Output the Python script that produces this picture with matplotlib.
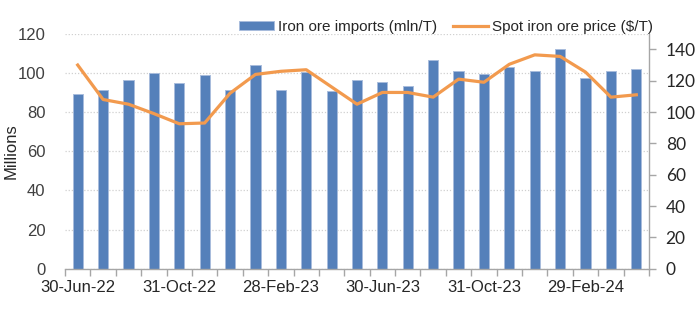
import numpy as np
import matplotlib
matplotlib.use('Agg')
import matplotlib.pyplot as plt
from matplotlib.ticker import FixedLocator

# monthly series, Jun-22 .. Apr-24
months = ['30-Jun-22', '31-Jul-22', '31-Aug-22', '30-Sep-22', '31-Oct-22', '30-Nov-22',
          '31-Dec-22', '31-Jan-23', '28-Feb-23', '31-Mar-23', '30-Apr-23', '31-May-23',
          '30-Jun-23', '31-Jul-23', '31-Aug-23', '30-Sep-23', '31-Oct-23', '30-Nov-23',
          '31-Dec-23', '31-Jan-24', '29-Feb-24', '31-Mar-24', '30-Apr-24']
imports = [89, 91.5, 96.5, 100, 95, 99, 91, 104, 91, 100.5, 90.5, 96.5,
           95.5, 93.5, 106.5, 101, 99.5, 103, 101, 112, 97.5, 101, 102]
price = [130, 108, 105, 99, 92.5, 93, 112, 124, 126, 127, 116, 105,
         112.5, 112.5, 109.5, 121, 119, 130.5, 136.5, 135.5, 125.5, 109.5, 111]

bar_col = '#5580BA'
line_col = '#F29A4E'
txt_col = '#262626'
axis_col = '#A6A6A6'

plt.rcParams['font.family'] = ['Liberation Sans', 'DejaVu Sans']

fig = plt.figure(figsize=(7, 3.22), dpi=100)
ax1 = fig.add_axes([65/700, 1-268.7/322, 584/700, 235/322])
x = np.arange(len(months))

ax1.bar(x, imports, width=0.4, color=bar_col, edgecolor='#A8BCDC', linewidth=0.7,
        label='Iron ore imports (mln/T)', zorder=2)
ax1.set_xlim(-0.5, len(months)-0.5)
ax1.set_ylim(0, 120)
ax1.set_yticks(np.arange(0, 121, 20))
ax1.yaxis.grid(True, linestyle=(0, (1, 1.5)), color='#D0D0D0', linewidth=0.9, zorder=0)
ax1.set_axisbelow(True)
ax1.set_ylabel('Millions', fontsize=12, color=txt_col)
ax1.yaxis.set_label_coords(-0.08, 0.5)
ax1.tick_params(axis='y', length=0, labelsize=12, labelcolor='#404040', pad=14)

# labels every fourth month, tick marks between categories
ax1.set_xticks(x[::4])
ax1.set_xticklabels([months[i] for i in x[::4]])
ax1.xaxis.set_minor_locator(FixedLocator(np.arange(-0.5, len(months), 1)))
ax1.tick_params(axis='x', which='major', length=0, labelsize=12, labelcolor=txt_col, pad=8)
ax1.tick_params(axis='x', which='minor', length=5, color=axis_col, width=1)

for s in ['top', 'right', 'left']:
    ax1.spines[s].set_visible(False)
ax1.spines['bottom'].set_color(axis_col)
ax1.spines['bottom'].set_linewidth(1)

ax2 = ax1.twinx()
ax2.plot(x, price, color=line_col, linewidth=2.3, label='Spot iron ore price ($/T)',
         solid_joinstyle='round', zorder=3)
ax2.set_ylim(0, 150)
ax2.set_yticks(np.arange(0, 141, 20))
ax2.tick_params(axis='y', length=5, color=axis_col, width=1, labelsize=12.5,
                labelcolor=txt_col, pad=7, labelfontfamily='Lato')
for s in ['top', 'left', 'bottom']:
    ax2.spines[s].set_visible(False)
ax2.spines['right'].set_color(axis_col)
ax2.spines['right'].set_linewidth(1)

h1, l1 = ax1.get_legend_handles_labels()
h2, l2 = ax2.get_legend_handles_labels()
fig.legend(h1 + h2, l1 + l2, loc='center', bbox_to_anchor=(446/700, 1-27/322), ncol=2,
           frameon=False, fontsize=11, handlelength=2.3, handleheight=0.6,
           columnspacing=1.0, handletextpad=0.3, labelcolor=txt_col)

fig.savefig('out.png', dpi=100)
